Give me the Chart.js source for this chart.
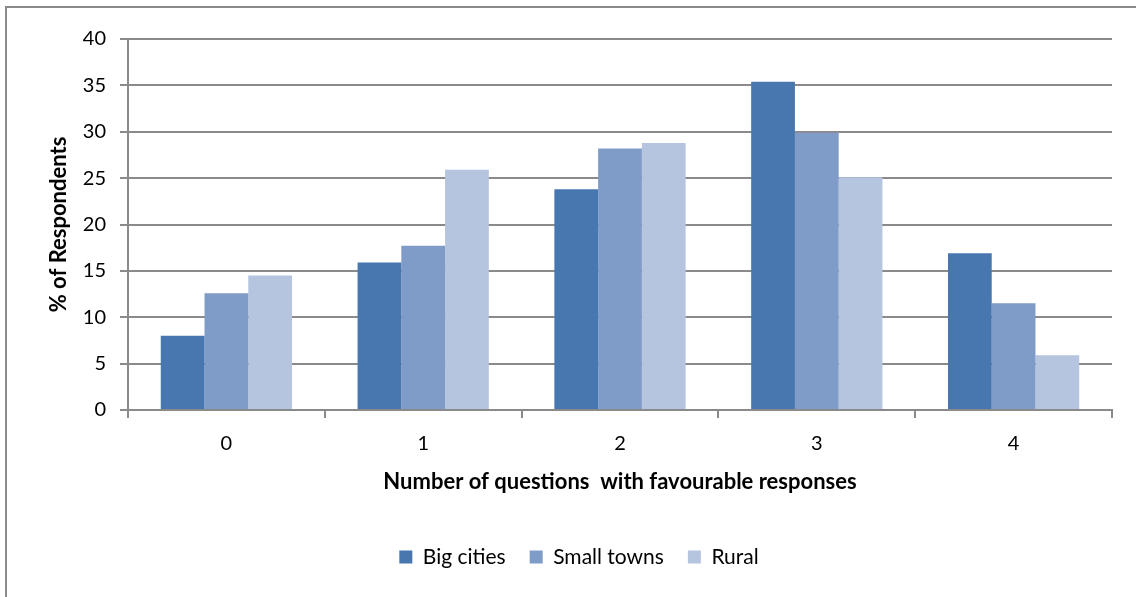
<!DOCTYPE html>
<html>
<head>
<meta charset="utf-8">
<title>Favourable responses by area</title>
<script src="https://cdn.jsdelivr.net/npm/chart.js@4.4.1/dist/chart.umd.min.js"></script>
<style>
  html, body { margin: 0; padding: 0; background: #fff; overflow: hidden; }
  #frame {
    position: absolute; left: 5px; top: 6px; width: 1300px; height: 700px;
    border-left: 2px solid #8a8a8a; border-top: 2px solid #8a8a8a;
  }
  #wrap { position: absolute; left: 0; top: 0; width: 1136px; height: 597px; }
</style>
</head>
<body>
<div id="frame"></div>
<div id="wrap"><canvas id="respChart"></canvas></div>
<script>
  // number of questions answered favourably (0-4)
  const categories = ["0", "1", "2", "3", "4"];

  // % of respondents per area
  const bigCities  = [8.0, 15.9, 23.8, 35.4, 16.9];
  const smallTowns = [12.6, 17.7, 28.2, 29.9, 11.5];
  const rural      = [14.5, 25.9, 28.8, 25.1, 5.9];

  const gridGrey = "#8a8a8a";
  const fontFamily = "Lato, 'Open Sans', sans-serif";

  // legend sits a bit left of the plot centre, move it after layout
  const legendShift = {
    id: "legendShift",
    afterLayout(chart) {
      chart.legend.left += 46;
      chart.legend.right += 0;
    }
  };

  const ctx = document.getElementById("respChart").getContext("2d");

  new Chart(ctx, {
    type: "bar",
    data: {
      labels: categories,
      datasets: [
        { label: "Big cities",  data: bigCities,  backgroundColor: "#4877b0" },
        { label: "Small towns", data: smallTowns, backgroundColor: "#7f9bc7" },
        { label: "Rural",       data: rural,      backgroundColor: "#b5c4df" }
      ]
    },
    plugins: [legendShift],
    options: {
      responsive: true,
      maintainAspectRatio: false,
      animation: false,
      devicePixelRatio: 1,
      categoryPercentage: 0.667,
      barPercentage: 1.0,
      layout: { padding: { left: 0, right: 24, top: 39, bottom: 19.5 } },
      plugins: {
        tooltip: { enabled: false },
        legend: {
          position: "bottom",
          labels: {
            boxWidth: 13,
            boxHeight: 13,
            padding: 24,
            color: "#000",
            font: { family: fontFamily, size: 21 }
          }
        }
      },
      scales: {
        x: {
          grid: {
            display: true,
            drawOnChartArea: false,
            drawTicks: true,
            tickLength: 8,
            color: gridGrey,
            lineWidth: 2
          },
          border: { display: true, color: gridGrey, width: 2 },
          ticks: { color: "#000", padding: 14, font: { family: fontFamily, size: 20 } },
          title: {
            display: true,
            text: "Number of questions  with favourable responses",
            color: "#000",
            padding: { top: 0, bottom: 27 },
            font: { family: fontFamily, size: 22, weight: "bold" }
          },
          afterFit: (scale) => { scale.height = 112.5; }
        },
        y: {
          min: 0,
          max: 40,
          grid: { color: gridGrey, lineWidth: 2, tickLength: 8 },
          border: { display: true, color: gridGrey, width: 2 },
          ticks: {
            stepSize: 5,
            color: "#000",
            padding: 14,
            font: { family: fontFamily, size: 20 }
          },
          title: {
            display: true,
            text: "% of Respondents",
            color: "#000",
            padding: { top: 46, bottom: 0 },
            font: { family: fontFamily, size: 22, weight: "bold" }
          },
          afterFit: (scale) => { scale.width = 128; }
        }
      }
    }
  });
</script>
</body>
</html>
